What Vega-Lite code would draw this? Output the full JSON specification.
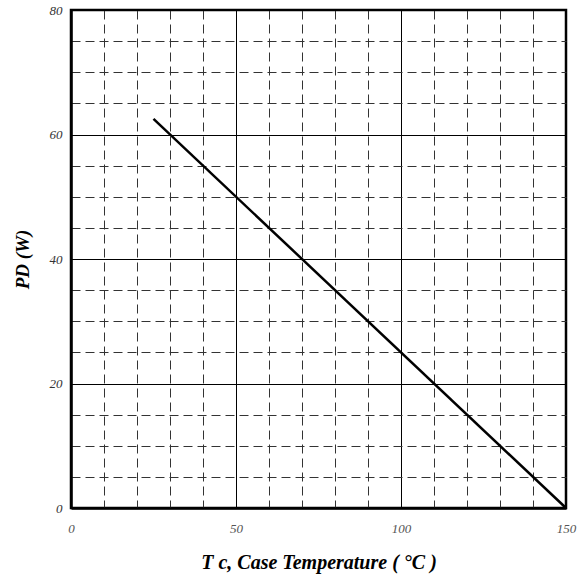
{
  "$schema": "https://vega.github.io/schema/vega-lite/v6.json",
  "width": 495,
  "height": 498,
  "autosize": "none",
  "padding": {"left": 71, "top": 10, "right": 18, "bottom": 74},
  "background": "white",
  "config": {
    "view": {"stroke": "black", "strokeWidth": 2.5},
    "axis": {"labelFont": "Liberation Serif", "titleFont": "Liberation Serif"}
  },
  "data": {"values": [
    {"tc": 25, "pd": 62.5},
    {"tc": 150, "pd": 0}
  ]},
  "mark": {"type": "line", "color": "black", "strokeWidth": 2.5},
  "encoding": {
    "x": {
      "field": "tc", "type": "quantitative",
      "scale": {"domain": [0, 150], "nice": false, "zero": false},
      "axis": {
        "values": [0,10,20,30,40,50,60,70,80,90,100,110,120,130,140,150],
        "labelExpr": "datum.value % 50 === 0 ? datum.label : ''",
        "ticks": false,
        "domainColor": "black", "domainWidth": 2.5,
        "grid": true,
        "gridColor": {"condition": {"test": "datum.value % 50 === 0", "value": "black"}, "value": "#333"},
        "gridDash": {"condition": {"test": "datum.value % 50 === 0", "value": []}, "value": [9, 5]},
        "gridWidth": 1,
        "gridOpacity": 1,
        "labelFontStyle": "italic", "labelFontSize": 13, "labelColor": "#555",
        "labelPadding": 14, "labelFlush": false,
        "title": "T c, Case Temperature (  °C )",
        "titleFontSize": 20, "titleFontWeight": "bold", "titleFontStyle": "italic",
        "titleColor": "black", "titlePadding": 17
      }
    },
    "y": {
      "field": "pd", "type": "quantitative",
      "scale": {"domain": [0, 80], "nice": false, "zero": false},
      "axis": {
        "values": [0,5,10,15,20,25,30,35,40,45,50,55,60,65,70,75,80],
        "labelExpr": "datum.value % 20 === 0 ? datum.label : ''",
        "ticks": false,
        "domainColor": "black", "domainWidth": 2.5,
        "grid": true,
        "gridColor": {"condition": {"test": "datum.value % 20 === 0", "value": "black"}, "value": "#333"},
        "gridDash": {"condition": {"test": "datum.value % 20 === 0", "value": []}, "value": [9, 5]},
        "gridWidth": 1,
        "gridOpacity": 1,
        "labelFontStyle": "italic", "labelFontSize": 13, "labelColor": "#333",
        "labelPadding": 9, "labelFlush": false,
        "title": "PD (W)",
        "titleFontSize": 19, "titleFontWeight": "bold", "titleFontStyle": "italic",
        "titleColor": "black", "titlePadding": 17
      }
    }
  }
}
